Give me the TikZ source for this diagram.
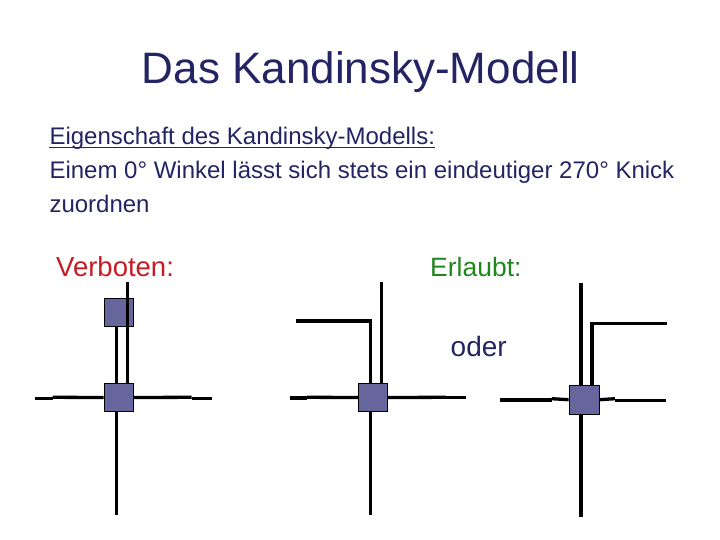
\documentclass[tikz,border=0pt]{standalone}
\usepackage{fontspec}
\setmainfont{Liberation Sans}
\usepackage{tikz}
\usetikzlibrary{calc,positioning}
\definecolor{navy}{RGB}{36,36,100}
\definecolor{verbotred}{RGB}{200,28,36}
\definecolor{erlaubtgreen}{RGB}{30,135,30}
\definecolor{knotblue}{RGB}{102,102,156}
\tikzstyle{knot}  = [draw=black, fill=knotblue, line width=0.8pt, minimum width=29pt, minimum height=28pt, inner sep=0pt]
\tikzstyle{edge}  = [line width=3.3pt, black]
\tikzstyle{txt}   = [inner sep=0pt, anchor=base west, text=navy]
\begin{document}
\begin{tikzpicture}[x=1pt,y=-1pt]
		\useasboundingbox (0,0) rectangle (720,540);

		% Ueberschrift und Text
		\node[txt, anchor=base] (title) at (360.8,83.3) {\fontsize{44}{50}\selectfont Das Kandinsky-Modell};
		\node[txt] (prop) at (49.3,144.3) {\fontsize{24}{28}\selectfont Eigenschaft des Kandinsky-Modells:};
		\draw[navy, line width=1.8pt] ([yshift=-3.2pt]prop.base west) -- ([yshift=-3.2pt]prop.base east);
		\node[txt] (line2) at (49.3,178.3) {\fontsize{24}{28}\selectfont Einem 0° Winkel lässt sich stets ein eindeutiger 270° Knick};
		\node[txt] (line3) at (49.3,212.3) {\fontsize{24}{28}\selectfont zuordnen};

		\node[txt, text=verbotred] (verb) at (56,276.7) {\fontsize{27.5}{32}\selectfont Verboten:};
		\node[txt, text=erlaubtgreen] (erl) at (430,276.7) {\fontsize{26.5}{31}\selectfont Erlaubt:};
		\node[txt] (oder) at (450.5,356) {\fontsize{28}{32}\selectfont oder};

		% verboten
		\node[knot] (u1) at (118.5,312) {};
		\node[knot] (v1) at (118.5,397.5) {};
		\coordinate (a1) at (127.3,282);
		\coordinate (b1) at (116.3,515);
		\draw[edge] (a1) -- (v1.north -| a1);
		\draw[edge] (u1.south -| b1) -- (v1.north -| b1);
		\draw[edge] (v1.south -| b1) -- (b1);
		\draw[edge] (35,398.3) -- (52.7,398.3);
		\draw[edge] (52.7,397.3) -- (v1.west);
		\draw[edge] (v1.east) -- (191.7,397.3);
		\draw[edge] (191.7,398.3) -- (211.7,398.3);

		% erlaubt, Variante 1
		\node[knot] (v2) at (373.3,397.5) {};
		\coordinate (a2) at (381.3,281.7);
		\coordinate (c2) at (370.3,321);
		\coordinate (b2) at (370.3,515);
		\draw[edge] (a2) -- (v2.north -| a2);
		\draw[edge] (v2.north -| c2) -- (c2) -- (296,321);
		\draw[edge] (v2.south -| b2) -- (b2);
		\draw[edge] (290,398) -- (307,398);
		\draw[edge] (307,397.3) -- (v2.west);
		\draw[edge] (v2.east) -- (446,397.3);
		\draw[edge] (446,397.8) -- (466,397.8);

		% erlaubt, Variante 2
		\node[knot, minimum width=30pt, minimum height=29pt] (v3) at (584,399.7) {};
		\coordinate (a3) at (581,283.3);
		\coordinate (c3) at (592,323.3);
		\coordinate (b3) at (581,516.7);
		\draw[edge] (a3) -- (v3.north -| a3);
		\draw[edge] (v3.north -| c3) -- (c3) -- (666.7,323.3);
		\draw[edge] (v3.south -| b3) -- (b3);
		\draw[edge] (500,400) -- (551.7,400);
		\draw[edge] (551.7,398.7) -- (v3.west);
		\draw[edge] (v3.east) -- (615,398.7);
		\draw[edge] (615,400.3) -- (665.7,400.3);
	\end{tikzpicture}
\end{document}
